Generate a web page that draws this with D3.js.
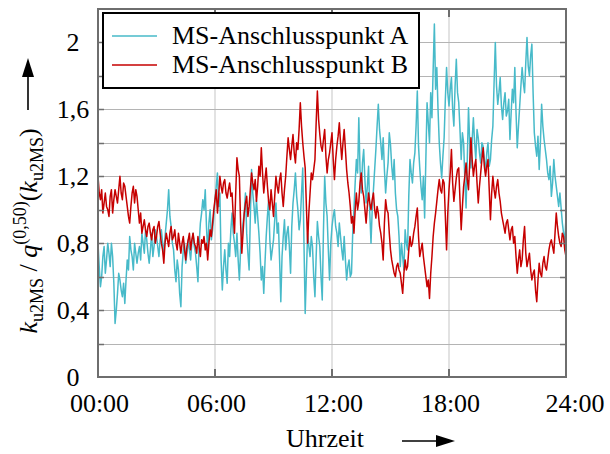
<!DOCTYPE html>
<html>
<head>
<meta charset="utf-8">
<script src="https://cdn.jsdelivr.net/npm/d3@7/dist/d3.min.js"></script>
<style>
  body { margin: 0; background: #fff; }
</style>
</head>
<body>
<div id="chart"></div>
<script>
// sampling: one value every 3.75 minutes, 00:00 .. 24:00 (16 per hour)
var stepHours = 0.0625

var seriesNames = ["MS-Anschlusspunkt A", "MS-Anschlusspunkt B"]
var seriesColors = ["#47bac9", "#c60000"]

var valuesA = [
  0.80,0.66, 0.54,0.60, 0.72,0.78, 0.62,0.70, 0.80,0.74, 0.66,0.80, 0.72,0.56, 0.32,0.40,
  0.50,0.62, 0.58,0.52, 0.48,0.56, 0.44,0.58, 0.70,0.64, 0.84,0.76, 0.72,0.64, 0.80,0.74,
  0.68,0.74, 0.78,0.70, 0.86,0.80, 0.74,0.88, 0.82,0.74, 0.68,0.76, 0.86,0.72, 0.78,0.88,
  0.84,0.78, 0.72,0.82, 0.88,0.80, 0.74,0.84, 0.92,1.00, 1.12,0.96, 0.90,0.80, 0.76,0.64,
  0.57,0.70, 0.64,0.50, 0.42,0.66, 0.76,0.80, 0.68,0.74, 0.82,0.76, 0.70,0.80, 0.86,0.78,
  0.74,0.66, 0.57,0.80, 0.92,0.98, 1.06,1.00, 1.12,0.90, 0.74,0.92, 1.00,0.82, 0.88,0.96,
  1.06,1.14, 1.22,1.02, 1.10,0.70, 0.52,0.66, 0.76,0.64, 0.56,0.80, 0.72,0.88, 0.98,0.86,
  0.80,0.72, 0.86,0.70, 0.58,0.76, 0.84,0.92, 0.98,1.10, 0.86,0.74, 0.64,0.96, 1.24,1.10,
  1.02,0.92, 1.06,0.96, 0.86,0.74, 0.58,0.66, 0.50,0.68, 0.84,0.96, 1.06,0.82, 0.70,0.76,
  0.82,0.94, 1.04,0.86, 0.92,0.70, 0.45,0.72, 0.84,0.94, 0.76,0.86, 0.90,0.78, 0.62,0.90,
  1.04,1.12, 1.22,1.08, 1.00,0.88, 0.94,1.10, 1.25,0.80, 0.38,0.62, 0.86,0.78, 0.72,0.84,
  0.78,0.60, 0.48,0.72, 0.93,0.84, 0.78,0.60, 0.46,0.88, 1.20,1.04, 0.96,0.76, 0.58,0.80,
  0.90,0.96, 1.00,0.90, 0.86,0.78, 0.92,0.84, 0.76,0.70, 0.84,0.70, 0.58,0.66, 0.70,0.60,
  0.62,0.86, 1.00,1.16, 1.30,1.22, 1.55,1.24, 1.10,1.28, 1.36,1.18, 1.04,1.14, 1.26,0.98,
  0.80,1.00, 1.12,1.24, 1.36,1.50, 1.63,1.48, 1.40,1.30, 1.43,1.24, 1.10,1.20, 1.28,1.46,
  1.39,1.26, 1.18,1.30, 1.10,1.00, 0.96,0.84, 0.66,0.80, 0.72,0.64, 0.88,0.80, 0.76,1.08,
  1.30,1.22, 1.16,1.28, 1.34,1.50, 1.71,1.38, 1.25,1.14, 1.06,1.20, 0.95,1.30, 1.64,1.52,
  1.40,1.70, 1.55,1.84, 2.11,1.72, 1.85,1.60, 1.40,1.28, 1.19,1.32, 1.43,1.66, 1.85,1.70,
  1.62,1.72, 1.79,1.60, 1.50,1.74, 1.90,1.70, 1.64,1.48, 1.30,1.46, 1.40,1.18, 1.01,1.30,
  1.61,1.40, 1.25,1.42, 1.55,1.40, 1.30,1.48, 1.43,1.34, 1.28,1.40, 1.38,1.30, 1.22,1.34,
  1.40,1.26, 1.30,1.42, 1.50,1.76, 2.00,1.74, 1.63,1.70, 1.79,1.62, 1.54,1.64, 1.70,1.56,
  1.59,1.66, 1.42,1.58, 1.72,1.64, 1.85,1.58, 1.37,1.50, 1.62,1.74, 1.85,1.76, 1.70,1.88,
  2.03,1.86, 1.80,1.92, 1.99,1.70, 1.46,1.38, 1.32,1.44, 1.24,1.40, 1.63,1.50, 1.42,1.36,
  1.30,1.22, 1.18,1.26, 1.08,1.16, 1.30,1.20, 1.14,1.08, 1.02,1.10, 1.01,0.92, 0.86,0.80,
  0.96
]

var valuesB = [
  1.20,1.10, 1.06,1.12, 0.98,1.04, 1.10,1.02, 1.00,0.96, 1.08,1.12, 0.98,1.06, 1.12,1.08,
  1.04,1.12, 1.20,1.10, 1.06,1.16, 1.14,1.08, 1.02,0.96, 0.92,1.02, 1.10,1.14, 1.04,1.12,
  1.08,1.00, 0.92,0.98, 0.86,0.90, 0.94,0.88, 0.84,0.90, 0.92,0.86, 0.82,0.88, 0.90,0.80,
  0.84,0.90, 0.93,0.86, 0.80,0.76, 0.68,0.80, 0.86,0.82, 0.78,0.86, 0.90,0.82, 0.84,0.88,
  0.80,0.76, 0.86,0.80, 0.74,0.80, 0.84,0.76, 0.70,0.78, 0.82,0.86, 0.76,0.82, 0.86,0.80,
  0.78,0.74, 0.84,0.78, 0.72,0.82, 0.80,0.84, 0.76,0.80, 0.70,0.80, 0.88,0.84, 0.92,1.00,
  1.06,1.12, 0.98,1.08, 1.20,1.14, 1.10,1.16, 1.18,1.10, 1.07,1.12, 1.16,1.08, 1.10,0.96,
  0.86,1.10, 1.31,1.24, 1.20,0.92, 0.74,0.86, 0.98,1.04, 1.08,0.96, 1.02,1.12, 1.22,1.16,
  1.12,1.18, 1.05,1.14, 1.26,1.20, 1.37,1.22, 1.10,1.18, 1.25,1.14, 1.05,1.00, 1.12,1.04,
  0.96,1.08, 1.20,1.14, 1.10,1.18, 1.22,1.10, 1.02,1.12, 1.20,1.32, 1.43,1.36, 1.30,1.38,
  1.45,1.34, 1.28,1.40, 1.36,1.48, 1.64,1.50, 1.40,1.32, 1.25,1.02, 0.80,0.98, 1.10,1.22,
  1.18,1.24, 1.30,1.52, 1.71,1.54, 1.45,1.38, 1.35,1.42, 1.48,1.32, 1.22,1.30, 1.34,1.40,
  1.46,1.30, 1.18,1.30, 1.38,1.44, 1.52,1.40, 1.30,1.40, 1.48,1.36, 1.24,1.16, 1.10,1.02,
  0.92,0.96, 0.86,1.00, 1.10,1.00, 1.05,1.16, 1.22,1.12, 1.08,1.00, 0.92,1.02, 1.10,1.04,
  1.00,1.06, 1.10,1.00, 0.95,1.02, 0.98,0.90, 0.86,0.80, 0.70,0.92, 1.06,1.00, 0.98,0.86,
  0.76,0.70, 0.66,0.62, 0.60,0.66, 0.68,0.64, 0.62,0.56, 0.50,0.62, 0.70,0.64, 0.66,0.76,
  0.84,0.78, 0.80,0.86, 0.90,0.96, 1.01,0.84, 0.72,0.76, 0.80,0.72, 0.66,0.60, 0.54,0.58,
  0.47,0.62, 0.72,0.84, 0.92,0.98, 1.05,1.12, 1.18,1.12, 1.10,1.18, 1.16,0.96, 0.76,0.98,
  1.12,1.22, 1.36,1.16, 1.05,1.12, 1.19,1.24, 1.25,1.06, 0.88,1.02, 1.14,1.20, 1.28,1.18,
  1.12,1.28, 1.43,1.30, 1.20,1.26, 1.30,1.16, 1.04,1.14, 1.22,1.30, 1.37,1.26, 1.20,1.26,
  1.30,1.12, 0.94,1.10, 1.20,1.12, 1.07,1.14, 1.18,1.10, 1.05,0.98, 0.94,0.90, 0.86,0.92,
  0.94,0.88, 0.82,0.88, 0.90,0.80, 0.84,0.72, 0.62,0.70, 0.76,0.66, 0.70,0.82, 0.90,0.74,
  0.66,0.70, 0.74,0.64, 0.58,0.62, 0.64,0.52, 0.45,0.58, 0.68,0.62, 0.60,0.68, 0.72,0.66,
  0.64,0.70, 0.76,0.80, 0.82,0.78, 0.74,0.86, 0.98,0.90, 0.84,0.80, 0.78,0.86, 0.84,0.76,
  0.72
]

var xTickHours = [0, 6, 12, 18, 24]
var xTickLabels = ["00:00", "06:00", "12:00", "18:00", "24:00"]
var yTicks = [0, 0.4, 0.8, 1.2, 1.6, 2]
var yTickLabels = ["0", "0,4", "0,8", "1,2", "1,6", "2"]
var yGrid = [0.2, 0.4, 0.6, 0.8, 1.0, 1.2, 1.4, 1.6, 1.8, 2.0]

var config = {
  width: 610,
  height: 454,
  margin: { left: 98, right: 44, top: 9, bottom: 77 },
  fontSize: 26,
  font: "'Liberation Serif', 'DejaVu Serif', serif"
}

var innerW = config.width - config.margin.left - config.margin.right
var innerH = config.height - config.margin.top - config.margin.bottom

var x = d3.scaleLinear().domain([0, 24]).range([0, innerW])
var y = d3.scaleLinear().domain([0, 2.2]).range([innerH, 0])

var svg = d3.select("#chart").append("svg")
    .attr("width", config.width)
    .attr("height", config.height)
    .style("font-family", config.font)

var g = svg.append("g")
    .attr("transform", "translate(" + config.margin.left + "," + config.margin.top + ")")

// vertical grid (light)
g.selectAll(".vgrid")
    .data([6, 12, 18])
  .enter().append("line")
    .attr("class", "vgrid")
    .attr("x1", function(d){ return x(d) })
    .attr("x2", function(d){ return x(d) })
    .attr("y1", 0)
    .attr("y2", innerH)
    .attr("stroke", "#e2e2e2")
    .attr("stroke-width", 2)

// horizontal grid
g.selectAll(".hgrid")
    .data(yGrid)
  .enter().append("line")
    .attr("class", "hgrid")
    .attr("x1", 0)
    .attr("x2", innerW)
    .attr("y1", function(d){ return Math.round(y(d)) + 0.5 })
    .attr("y2", function(d){ return Math.round(y(d)) + 0.5 })
    .attr("stroke", "#b4b4b4")
    .attr("stroke-width", 1.2)

// data lines
var line = d3.line()
    .x(function(d, i){ return x(i * stepHours) })
    .y(function(d){ return y(d) })

var clip = svg.append("clipPath").attr("id", "plotclip")
clip.append("rect").attr("width", innerW).attr("height", innerH)

var plot = g.append("g").attr("clip-path", "url(#plotclip)")

plot.append("path")
    .datum(valuesA)
    .attr("fill", "none")
    .attr("stroke", seriesColors[0])
    .attr("stroke-width", 1.5)
    .attr("stroke-linejoin", "round")
    .attr("d", line)

plot.append("path")
    .datum(valuesB)
    .attr("fill", "none")
    .attr("stroke", seriesColors[1])
    .attr("stroke-width", 1.5)
    .attr("stroke-linejoin", "round")
    .attr("d", line)

// inner ticks: left and right on every grid value, top and bottom every 6h
var tickColor = "#6e6e6e"
yGrid.forEach(function(v){
  g.append("line").attr("x1", 0).attr("x2", 6)
      .attr("y1", Math.round(y(v)) + 0.5).attr("y2", Math.round(y(v)) + 0.5)
      .attr("stroke", tickColor).attr("stroke-width", 1.5)
  g.append("line").attr("x1", innerW - 6).attr("x2", innerW)
      .attr("y1", Math.round(y(v)) + 0.5).attr("y2", Math.round(y(v)) + 0.5)
      .attr("stroke", tickColor).attr("stroke-width", 1.5)
})
;[6, 12, 18].forEach(function(h){
  g.append("line").attr("x1", x(h)).attr("x2", x(h)).attr("y1", 0).attr("y2", 8)
      .attr("stroke", tickColor).attr("stroke-width", 2)
  g.append("line").attr("x1", x(h)).attr("x2", x(h)).attr("y1", innerH - 8).attr("y2", innerH)
      .attr("stroke", tickColor).attr("stroke-width", 2)
})

// frame
g.append("rect")
    .attr("x", 0).attr("y", 0)
    .attr("width", innerW).attr("height", innerH)
    .attr("fill", "none")
    .attr("stroke", tickColor)
    .attr("stroke-width", 2)

// tick labels
g.selectAll(".ylab")
    .data(yTicks)
  .enter().append("text")
    .attr("class", "ylab")
    .attr("x", -25)
    .attr("y", function(d){ return y(d) + 9 })
    .attr("text-anchor", "middle")
    .attr("font-size", config.fontSize)
    .text(function(d, i){ return yTickLabels[i] })

// last label sits a little further right and runs off the page, as in the original
g.selectAll(".xlab")
    .data(xTickHours)
  .enter().append("text")
    .attr("class", "xlab")
    .attr("x", function(d, i){ return x(d) + (i === xTickHours.length - 1 ? 9 : 1.5) })
    .attr("y", innerH + 35)
    .attr("text-anchor", "middle")
    .attr("font-size", config.fontSize)
    .text(function(d, i){ return xTickLabels[i] })

// x axis title with arrow
svg.append("text")
    .attr("x", 286)
    .attr("y", 447)
    .attr("font-size", config.fontSize)
    .text("Uhrzeit")
svg.append("line").attr("x1", 402).attr("x2", 438).attr("y1", 441).attr("y2", 441)
    .attr("stroke", "#000").attr("stroke-width", 1.6)
svg.append("path").attr("d", "M455,441 L436,435 L436,447 Z").attr("fill", "#000")

// y axis title with arrow
var ytitle = svg.append("text")
    .attr("transform", "translate(37,231) rotate(-90)")
    .attr("text-anchor", "middle")
    .attr("font-size", config.fontSize)
var sub = 18
ytitle.append("tspan").attr("font-style", "italic").text("k")
ytitle.append("tspan").attr("font-size", sub).attr("dy", 6).text("u2MS")
ytitle.append("tspan").attr("dy", -6).text("\u00a0/\u00a0")
ytitle.append("tspan").attr("font-style", "italic").text("q")
ytitle.append("tspan").attr("font-size", sub).attr("dy", -11).text("(0,50)")
ytitle.append("tspan").attr("dy", 11).text("(")
ytitle.append("tspan").attr("font-style", "italic").text("k")
ytitle.append("tspan").attr("font-size", sub).attr("dy", 6).text("u2MS")
ytitle.append("tspan").attr("dy", -6).text(")")

svg.append("line").attr("x1", 28).attr("x2", 28).attr("y1", 110).attr("y2", 75)
    .attr("stroke", "#000").attr("stroke-width", 1.6)
svg.append("path").attr("d", "M28,58 L22,77 L34,77 Z").attr("fill", "#000")

// legend
var legend = svg.append("g").attr("transform", "translate(103,13)")
legend.append("rect")
    .attr("width", 316).attr("height", 75)
    .attr("fill", "#fff")
    .attr("stroke", "#000")
    .attr("stroke-width", 2)
seriesNames.forEach(function(name, i){
  var ly = 23 + i * 29
  legend.append("line")
      .attr("x1", 9).attr("x2", 54)
      .attr("y1", ly).attr("y2", ly)
      .attr("stroke", seriesColors[i])
      .attr("stroke-width", 1.4)
  legend.append("text")
      .attr("x", 69)
      .attr("y", ly + 8)
      .attr("font-size", config.fontSize)
      .text(name)
})
</script>
</body>
</html>
